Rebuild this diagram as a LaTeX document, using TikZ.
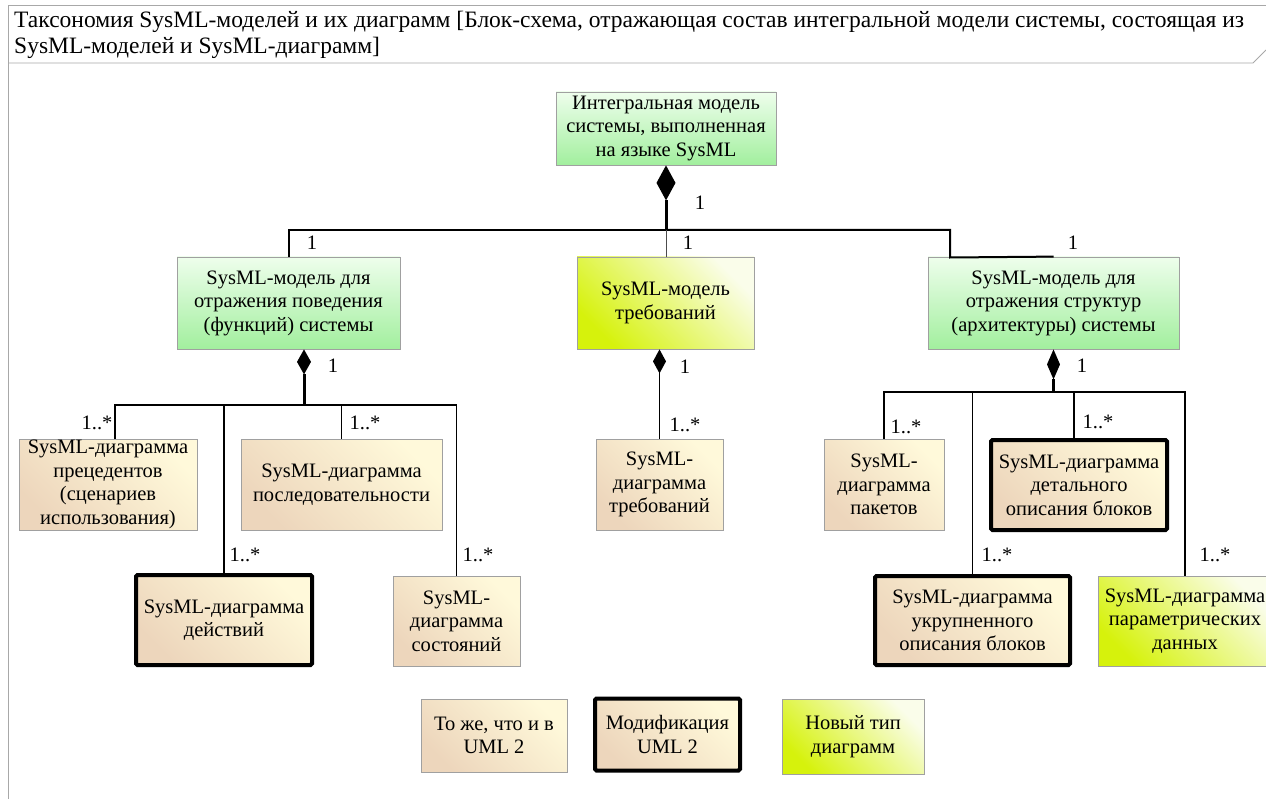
\documentclass[tikz,border=0pt]{standalone}
\usepackage{fontspec}
\setmainfont{Liberation Serif}
\definecolor{framec}{HTML}{A8A8A8}
\definecolor{boxborder}{HTML}{A0A0A0}
\definecolor{greentop}{HTML}{EEFEEC}
\definecolor{greenbot}{HTML}{A2EF9E}
\definecolor{beigelight}{HTML}{FFF9DA}
\definecolor{beigedark}{HTML}{EDD6BC}
\definecolor{yglight}{HTML}{FAFDEA}
\definecolor{ygdark}{HTML}{D6F20C}
\newcommand{\nf}{\fontsize{20.5}{23.5}\selectfont}
\newcommand{\tf}{\fontsize{23.5}{26}\selectfont}
\tikzset{
  box/.style={draw=boxborder, line width=0.8pt, align=center, inner sep=0pt, font=\nf},
  greenbox/.style={box, top color=greentop, bottom color=greenbot},
  beigebox/.style={box, top color=beigelight, bottom color=beigedark, shading angle=-45},
  ygbox/.style={box, top color=yglight, bottom color=ygdark, shading angle=-45},
  modbox/.style={draw=black, line width=4pt, rounded corners=1.5pt},
  conn/.style={draw=black, line width=1.6pt},
  stem/.style={draw=black, line width=3pt},
  lbl/.style={font=\nf, inner sep=0pt},
}
\begin{document}
\begin{tikzpicture}[x=1pt,y=-1pt]
\useasboundingbox (0,0) rectangle (1266,799);
% frame
\draw[framec, line width=0.9pt] (8,799) -- (8,5) -- (1266,5);
\draw[framec, line width=0.9pt] (8,63) -- (1253,63) -- (1266,50);
\node[anchor=base west, font=\tf, inner sep=0pt] (title1) at (14,28) {Таксономия SysML-моделей и их диаграмм [Блок-схема, отражающая состав интегральной модели системы, состоящая из};
\node[anchor=base west, font=\tf, inner sep=0pt] (title2) at (14,54) {SysML-моделей и SysML-диаграмм]};

% models
\node[greenbox, minimum width=220pt, minimum height=73pt] (top) at (666,128.5) {Интегральная модель\\системы, выполненная\\на языке SysML};
\node[greenbox, minimum width=223pt, minimum height=92pt] (m1) at (288.5,303) {SysML-модель для\\отражения поведения\\(функций) системы};
\node[ygbox, minimum width=177pt, minimum height=92pt] (m2) at (665.5,303) {SysML-модель\\требований};
\node[greenbox, minimum width=251pt, minimum height=92pt] (m3) at (1053.5,303) {SysML-модель для\\отражения структур\\(архитектуры) системы};

% diagrams
\node[beigebox, minimum width=178pt, minimum height=91pt] (prec) at (108,484.5) {SysML-диаграмма\\прецедентов\\(сценариев\\использования)};
\node[beigebox, minimum width=201pt, minimum height=91pt] (seq) at (341.5,484.5) {SysML-диаграмма\\последовательности};
\node[beigebox, modbox, minimum width=176pt, minimum height=90pt] (act) at (224,620) {SysML-диаграмма\\действий};
\node[beigebox, minimum width=127pt, minimum height=90pt] (state) at (456.5,621) {SysML-\\диаграмма\\состояний};
\node[beigebox, minimum width=127pt, minimum height=91pt] (req) at (659.5,484.5) {SysML-\\диаграмма\\требований};
\node[beigebox, minimum width=120pt, minimum height=91pt] (pkg) at (884,484.5) {SysML-\\диаграмма\\пакетов};
\node[beigebox, modbox, minimum width=176pt, minimum height=90pt] (det) at (1079,485) {SysML-диаграмма\\детального\\описания блоков};
\node[beigebox, modbox, minimum width=195pt, minimum height=89pt] (ukr) at (972.5,620.5) {SysML-диаграмма\\укрупненного\\описания блоков};
\node[ygbox, minimum width=174pt, minimum height=90pt] (param) at (1185,621) {SysML-диаграмма\\параметрических\\данных};

% legend
\node[beigebox, minimum width=146pt, minimum height=73pt] (leg1) at (494,735.5) {То же, что и в\\UML 2};
\node[beigebox, modbox, minimum width=145pt, minimum height=72pt] (leg2) at (667.5,734.5) {Модификация\\UML 2};
\node[ygbox, minimum width=142pt, minimum height=75pt] (leg3) at (853,736.5) {Новый тип\\диаграмм};

% top composition
\fill (top.south) -- ++(9.5,17.5) -- ++(-9.5,17.5) -- ++(-9.5,-17.5) -- cycle;
\path (top.south) ++(0,35) coordinate (d0);
\coordinate (b0) at (666,230);
\draw[stem] (d0) -- (b0);
\draw[conn, line width=2pt] (b0) -| (m1.north);
\draw[conn, line width=2pt] (b0) -- (950,230) -- (950,257.5) -- (m3.north);
\draw[draw=black!70, line width=1pt] (b0) -- (b0 |- m2.north);

% left composition
\path (m1.south) ++(15.5,0) coordinate (d1t);
\fill (d1t) -- ++(7,12.5) -- ++(-7,12.5) -- ++(-7,-12.5) -- cycle;
\path (d1t) ++(0,25) coordinate (d1);
\coordinate (b1) at (304,405);
\draw[stem] (d1) -- (b1);
\draw[conn] (b1) -| ([xshift=7pt]prec.north);
\draw[conn] (b1) -| (act.north);
\draw[conn] (b1) -| (seq.north);
\draw[conn] (b1) -| (state.north);

% middle composition
\path (req.north |- m2.south) coordinate (d2t);
\fill (d2t) -- ++(6.5,12) -- ++(-6.5,12) -- ++(-6.5,-12) -- cycle;
\path (d2t) ++(0,24) coordinate (d2);
\draw[conn] (d2) -- (req.north);

% right composition
\path (m3.south) coordinate (d3t);
\fill (d3t) -- ++(6.5,15) -- ++(-6.5,15) -- ++(-6.5,-15) -- cycle;
\path (d3t) ++(0,30) coordinate (d3);
\coordinate (b3) at (1053.5,392);
\draw[stem] (d3) -- (b3);
\draw[conn] (b3) -| (pkg.north);
\draw[conn] (b3) -| (ukr.north);
\draw[conn] (b3) -| ([xshift=-5pt]det.north);
\draw[conn] (b3) -| (param.north);

% multiplicities
\node[lbl] (n0) at (700,203) {1};
\node[lbl] (n1) at (312,243) {1};
\node[lbl] (n2) at (688,243) {1};
\node[lbl] (n3) at (1073,243) {1};
\node[lbl] (n4) at (333,366) {1};
\node[lbl] (n5) at (685,367) {1};
\node[lbl] (n6) at (1082,366) {1};
\node[lbl] (s1) at (97,423) {1..*};
\node[lbl] (s2) at (365,423) {1..*};
\node[lbl] (s3) at (245,555) {1..*};
\node[lbl] (s4) at (478,555) {1..*};
\node[lbl] (s5) at (685,425) {1..*};
\node[lbl] (s6) at (906,427) {1..*};
\node[lbl] (s7) at (1098,422) {1..*};
\node[lbl] (s8) at (997,555) {1..*};
\node[lbl] (s9) at (1215,555) {1..*};
\end{tikzpicture}
\end{document}
